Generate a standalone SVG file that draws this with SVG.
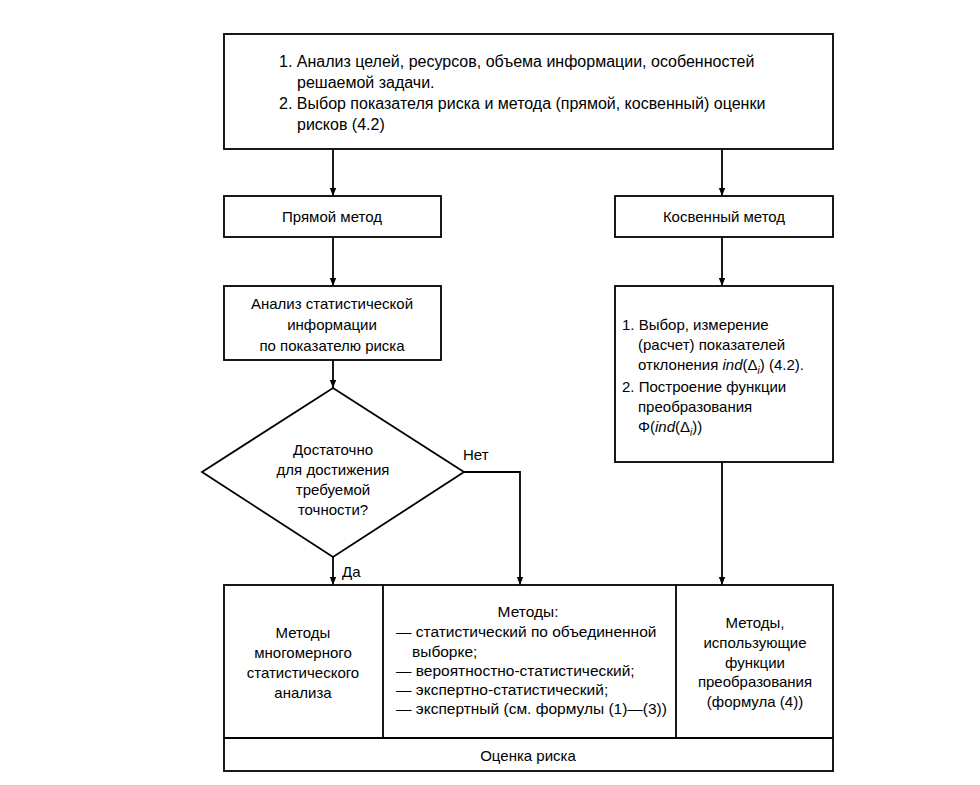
<svg xmlns="http://www.w3.org/2000/svg" width="980" height="785" viewBox="0 0 980 785">
<style>
.b{fill:#fff;stroke:#000;stroke-width:1.8}
.l{fill:none;stroke:#000;stroke-width:1.8}
text{font-family:"Liberation Sans","DejaVu Sans",sans-serif;font-size:15px;fill:#000}
.c{text-anchor:middle}
.t{font-size:16px}
.m{font-size:15.5px}
</style>
<defs>
<marker id="a" viewBox="0 0 10 10" refX="10" refY="5" markerWidth="8" markerHeight="8" markerUnits="userSpaceOnUse" orient="auto">
<path d="M0,1 L10,5 L0,9 Z" fill="#000"/>
</marker>
</defs>
<rect width="980" height="785" fill="#fff"/>
<g id="connectors">
<line class="l" x1="333" y1="149" x2="333" y2="196" marker-end="url(#a)"/>
<line class="l" x1="722" y1="149" x2="722" y2="196" marker-end="url(#a)"/>
<line class="l" x1="333" y1="237" x2="333" y2="286" marker-end="url(#a)"/>
<line class="l" x1="722" y1="237" x2="722" y2="286" marker-end="url(#a)"/>
<line class="l" x1="333" y1="360" x2="333" y2="388" marker-end="url(#a)"/>
<line class="l" x1="333" y1="557" x2="333" y2="585" marker-end="url(#a)"/>
<polyline class="l" points="464,472 520,472 520,585" marker-end="url(#a)"/>
<line class="l" x1="722" y1="462" x2="722" y2="585" marker-end="url(#a)"/>
<text x="463" y="460">Нет</text>
<text x="342" y="577">Да</text>
</g>
<g id="n-top">
<rect class="b" x="224" y="34" width="609" height="115"/>
<text class="t" x="279" y="67">1. Анализ целей, ресурсов, объема информации, особенностей</text>
<text class="t" x="297" y="88">решаемой задачи.</text>
<text class="t" x="279" y="109">2. Выбор показателя риска и метода (прямой, косвенный) оценки</text>
<text class="t" x="297" y="130">рисков (4.2)</text>
</g>
<g id="n-direct">
<rect class="b" x="224" y="196" width="217" height="41"/>
<text class="c" x="332" y="222">Прямой метод</text>
</g>
<g id="n-indirect">
<rect class="b" x="615" y="196" width="218" height="41"/>
<text class="c" x="724" y="222">Косвенный метод</text>
</g>
<g id="n-stat">
<rect class="b" x="224" y="286" width="217" height="74"/>
<text class="c" x="332" y="309">Анализ статистической</text>
<text class="c" x="332" y="330">информации</text>
<text class="c" x="332" y="351">по показателю риска</text>
</g>
<g id="n-select">
<rect class="b" x="615" y="286" width="218" height="176"/>
<text x="622" y="330">1. Выбор, измерение</text>
<text x="638" y="350">(расчет) показателей</text>
<text x="638" y="370">отклонения <tspan font-style="italic">ind</tspan>(Δ<tspan font-size="10" font-style="italic" dy="4">i</tspan><tspan dy="-4">) (4.2).</tspan></text>
<text x="622" y="392">2. Построение функции</text>
<text x="638" y="412">преобразования</text>
<text x="638" y="432">Φ(<tspan font-style="italic">ind</tspan>(Δ<tspan font-size="10" font-style="italic" dy="4">i</tspan><tspan dy="-4">))</tspan></text>
</g>
<g id="n-decision">
<polygon class="b" points="333,388 464,472 333,557 202,472"/>
<text class="c" x="333" y="455">Достаточно</text>
<text class="c" x="333" y="475">для достижения</text>
<text class="c" x="333" y="495">требуемой</text>
<text class="c" x="333" y="515">точности?</text>
</g>
<g id="n-bottom">
<rect class="b" x="224" y="585" width="609" height="186"/>
<line class="l" x1="383" y1="585" x2="383" y2="738"/>
<line class="l" x1="676" y1="585" x2="676" y2="738"/>
<line class="l" x1="224" y1="738" x2="833" y2="738"/>
</g>
<g id="n-multi">
<text class="c" x="303" y="638">Методы</text>
<text class="c" x="303" y="658">многомерного</text>
<text class="c" x="303" y="678">статистического</text>
<text class="c" x="303" y="698">анализа</text>
</g>
<g id="n-methods">
<text class="c m" x="528" y="617">Методы:</text>
<text class="m" x="396" y="637">— статистический по объединенной</text>
<text class="m" x="412" y="657">выборке;</text>
<text class="m" x="396" y="676">— вероятностно-статистический;</text>
<text class="m" x="396" y="695">— экспертно-статистический;</text>
<text class="m" x="396" y="714">— экспертный (см. формулы (1)—(3))</text>
</g>
<g id="n-func">
<text class="c" x="755" y="628">Методы,</text>
<text class="c" x="755" y="648">использующие</text>
<text class="c" x="755" y="668">функции</text>
<text class="c" x="755" y="687">преобразования</text>
<text class="c" x="755" y="707">(формула (4))</text>
</g>
<g id="n-risk">
<text class="c" x="528" y="761">Оценка риска</text>
</g>
</svg>
